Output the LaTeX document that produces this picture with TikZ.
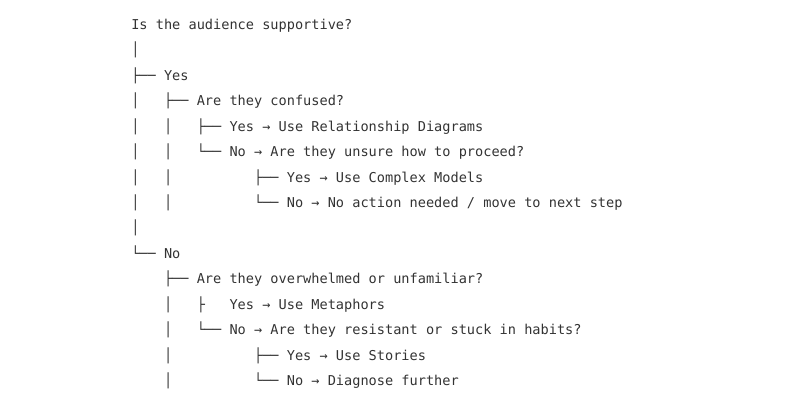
\documentclass[tikz,border=0pt]{standalone}
\usepackage{fontspec}
\setmonofont{DejaVu Sans Mono}
\tikzset{
  ln/.style={anchor=base west, inner sep=0pt,
             font=\ttfamily\fontsize{10.2}{12}\selectfont, text=black!80},
}
\begin{document}
\frenchspacing
\begin{tikzpicture}[x=0.75pt, y=-0.75pt]

  \useasboundingbox (0,0) rectangle (800,400);

  \def\XO{131}
  \def\YO{29.5}
  \def\LH{25.43}

  \node[ln] (root)    at (\XO, \YO)         {Is the audience supportive?};
  \node[ln] (barA)    at (\XO, \YO+1*\LH)   {│};
  \node[ln] (yes)     at (\XO, \YO+2*\LH)   {├── Yes};
  \node[ln] (conf)    at (\XO, \YO+3*\LH)   {│~~~├── Are they confused?};
  \node[ln] (reldiag) at (\XO, \YO+4*\LH)   {│~~~│~~~├── Yes → Use Relationship Diagrams};
  \node[ln] (unsure)  at (\XO, \YO+5*\LH)   {│~~~│~~~└── No → Are they unsure how to proceed?};
  \node[ln] (cmplx)   at (\XO, \YO+6*\LH)   {│~~~│~~~~~~~~~~├── Yes → Use Complex Models};
  \node[ln] (noact)   at (\XO, \YO+7*\LH)   {│~~~│~~~~~~~~~~└── No → No action needed / move to next step};
  \node[ln] (barB)    at (\XO, \YO+8*\LH)   {│};
  \node[ln] (no)      at (\XO, \YO+9*\LH)   {└── No};
  \node[ln] (overw)   at (\XO, \YO+10*\LH)  {~~~~├── Are they overwhelmed or unfamiliar?};
  \node[ln] (metaph)  at (\XO, \YO+11*\LH)  {~~~~│~~~├~~~Yes → Use Metaphors};
  \node[ln] (resist)  at (\XO, \YO+12*\LH)  {~~~~│~~~└── No → Are they resistant or stuck in habits?};
  \node[ln] (stories) at (\XO, \YO+13*\LH)  {~~~~│~~~~~~~~~~├── Yes → Use Stories};
  \node[ln] (diag)    at (\XO, \YO+14*\LH)  {~~~~│~~~~~~~~~~└── No → Diagnose further};

\end{tikzpicture}
\end{document}
